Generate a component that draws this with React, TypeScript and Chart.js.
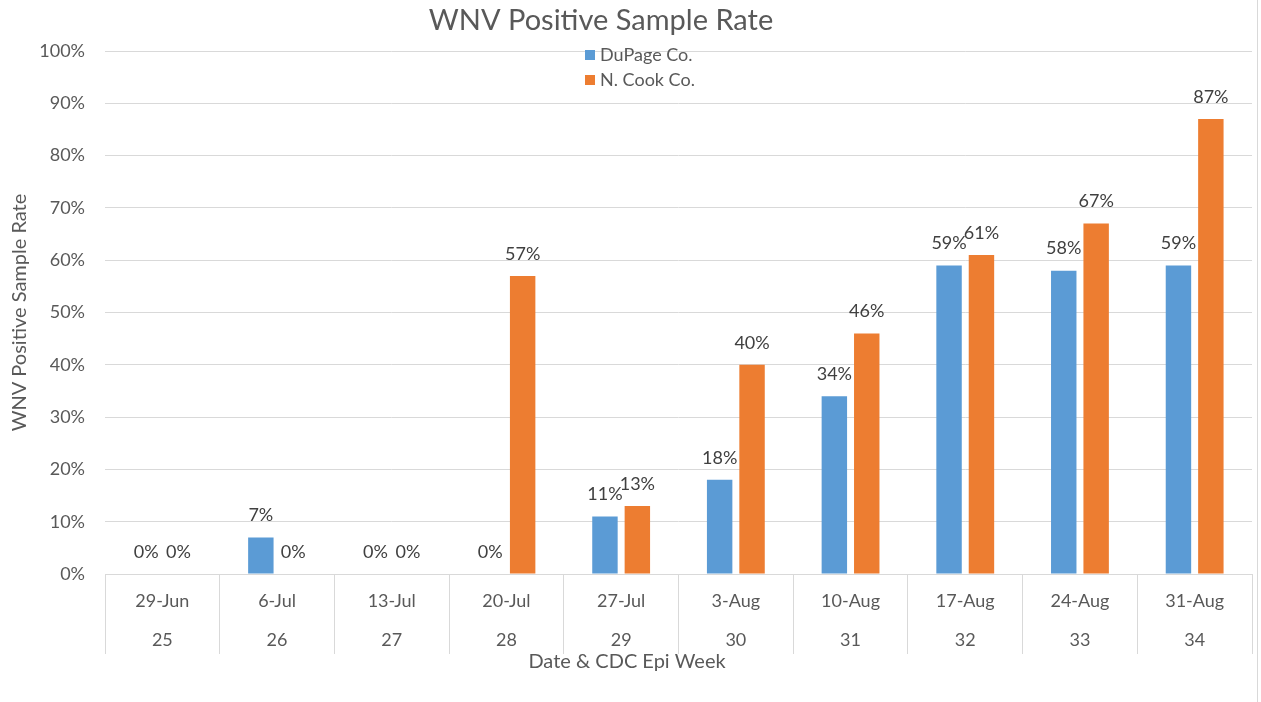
import React, { useEffect, useRef } from "react";
import { Chart, registerables } from "chart.js";

Chart.register(...registerables);

const dates = ["29-Jun", "6-Jul", "13-Jul", "20-Jul", "27-Jul", "3-Aug", "10-Aug", "17-Aug", "24-Aug", "31-Aug"];
const epiWeeks = ["25", "26", "27", "28", "29", "30", "31", "32", "33", "34"];
const dupage = [0, 7, 0, 0, 11, 18, 34, 59, 58, 59];
const nCook = [0, 0, 0, 57, 13, 40, 46, 61, 67, 87];
const seriesNames = ["DuPage Co.", "N. Cook Co."];
const seriesColors = ["#5B9BD5", "#ED7D31"];
const chartTitle = "WNV Positive Sample Rate";
const yTitle = "WNV Positive Sample Rate";
const xTitle = "Date & CDC Epi Week";

const FONT = "Lato, 'Open Sans', sans-serif";
const TEXT = "#595959";
const GRID = "#D9D9D9";

const decorPlugin = {
  id: "decor",
  afterDatasetsDraw(chart: any) {
    const ctx = chart.ctx;
    ctx.save();
    ctx.font = `18px ${FONT}`;
    ctx.fillStyle = "#404040";
    ctx.textAlign = "center";
    ctx.textBaseline = "middle";
    chart.data.datasets.forEach((ds: any, i: number) => {
      const meta = chart.getDatasetMeta(i);
      meta.data.forEach((bar: any, j: number) => {
        ctx.fillText(ds.data[j] + "%", bar.x, bar.y - 22);
      });
    });
    ctx.restore();
  },
  afterDraw(chart: any) {
    const ctx = chart.ctx;
    ctx.save();
    // title
    ctx.fillStyle = TEXT;
    ctx.textAlign = "center";
    ctx.textBaseline = "middle";
    ctx.font = `29px ${FONT}`;
    ctx.fillText(chartTitle, 601, 21);
    // x axis title
    ctx.font = `20px ${FONT}`;
    ctx.fillText(xTitle, 627, 662);
    // legend
    ctx.textAlign = "left";
    ctx.font = `18px ${FONT}`;
    seriesNames.forEach((name, i) => {
      const y = 55 + i * 25;
      ctx.fillStyle = seriesColors[i];
      ctx.fillRect(585, y - 5, 10, 10);
      ctx.fillStyle = TEXT;
      ctx.fillText(name, 600, y);
    });
    // chart frame right edge
    ctx.strokeStyle = GRID;
    ctx.lineWidth = 1;
    ctx.beginPath();
    ctx.moveTo(1257.5, 0);
    ctx.lineTo(1257.5, 702);
    ctx.stroke();
    ctx.restore();
  },
};

export default function App() {
  const ref = useRef<HTMLCanvasElement>(null);
  useEffect(() => {
    document.body.style.margin = "0";
    const chart = new Chart(ref.current as HTMLCanvasElement, {
      type: "bar",
      data: {
        labels: dates.map((d, i) => [d, epiWeeks[i]]),
        datasets: [
          {
            label: seriesNames[0],
            data: dupage,
            backgroundColor: seriesColors[0],
            categoryPercentage: 0.565,
            barPercentage: 0.785,
          },
          {
            label: seriesNames[1],
            data: nCook,
            backgroundColor: seriesColors[1],
            categoryPercentage: 0.565,
            barPercentage: 0.785,
          },
        ],
      },
      options: {
        responsive: false,
        animation: false,
        layout: { padding: { top: 51, right: 9, left: 0, bottom: 0 } },
        plugins: {
          legend: { display: false },
          title: { display: false },
          tooltip: { enabled: false },
        },
        scales: {
          x: {
            afterFit: (s: any) => {
              s.height = 128;
            },
            grid: {
              offset: true,
              drawOnChartArea: false,
              drawTicks: true,
              tickLength: 80,
              color: GRID,
              lineWidth: 1,
            },
            border: { display: true, color: GRID },
            ticks: {
              autoSkip: false,
              maxRotation: 0,
              padding: -72.5,
              color: TEXT,
              font: { family: FONT, size: 18, lineHeight: 39 / 18 },
            },
          },
          y: {
            min: 0,
            max: 100,
            afterFit: (s: any) => {
              s.width = 105;
            },
            grid: { color: GRID, drawTicks: false, lineWidth: 1 },
            border: { display: false },
            ticks: {
              stepSize: 10,
              padding: 20,
              color: TEXT,
              font: { family: FONT, size: 18 },
              callback: (v: any) => v + "%",
            },
            title: {
              display: true,
              text: yTitle,
              color: TEXT,
              font: { family: FONT, size: 20 },
              padding: { top: 8, bottom: 0 },
            },
          },
        },
      },
      plugins: [decorPlugin],
    });
    return () => chart.destroy();
  }, []);
  return <canvas ref={ref} width={1261} height={702} />;
}
